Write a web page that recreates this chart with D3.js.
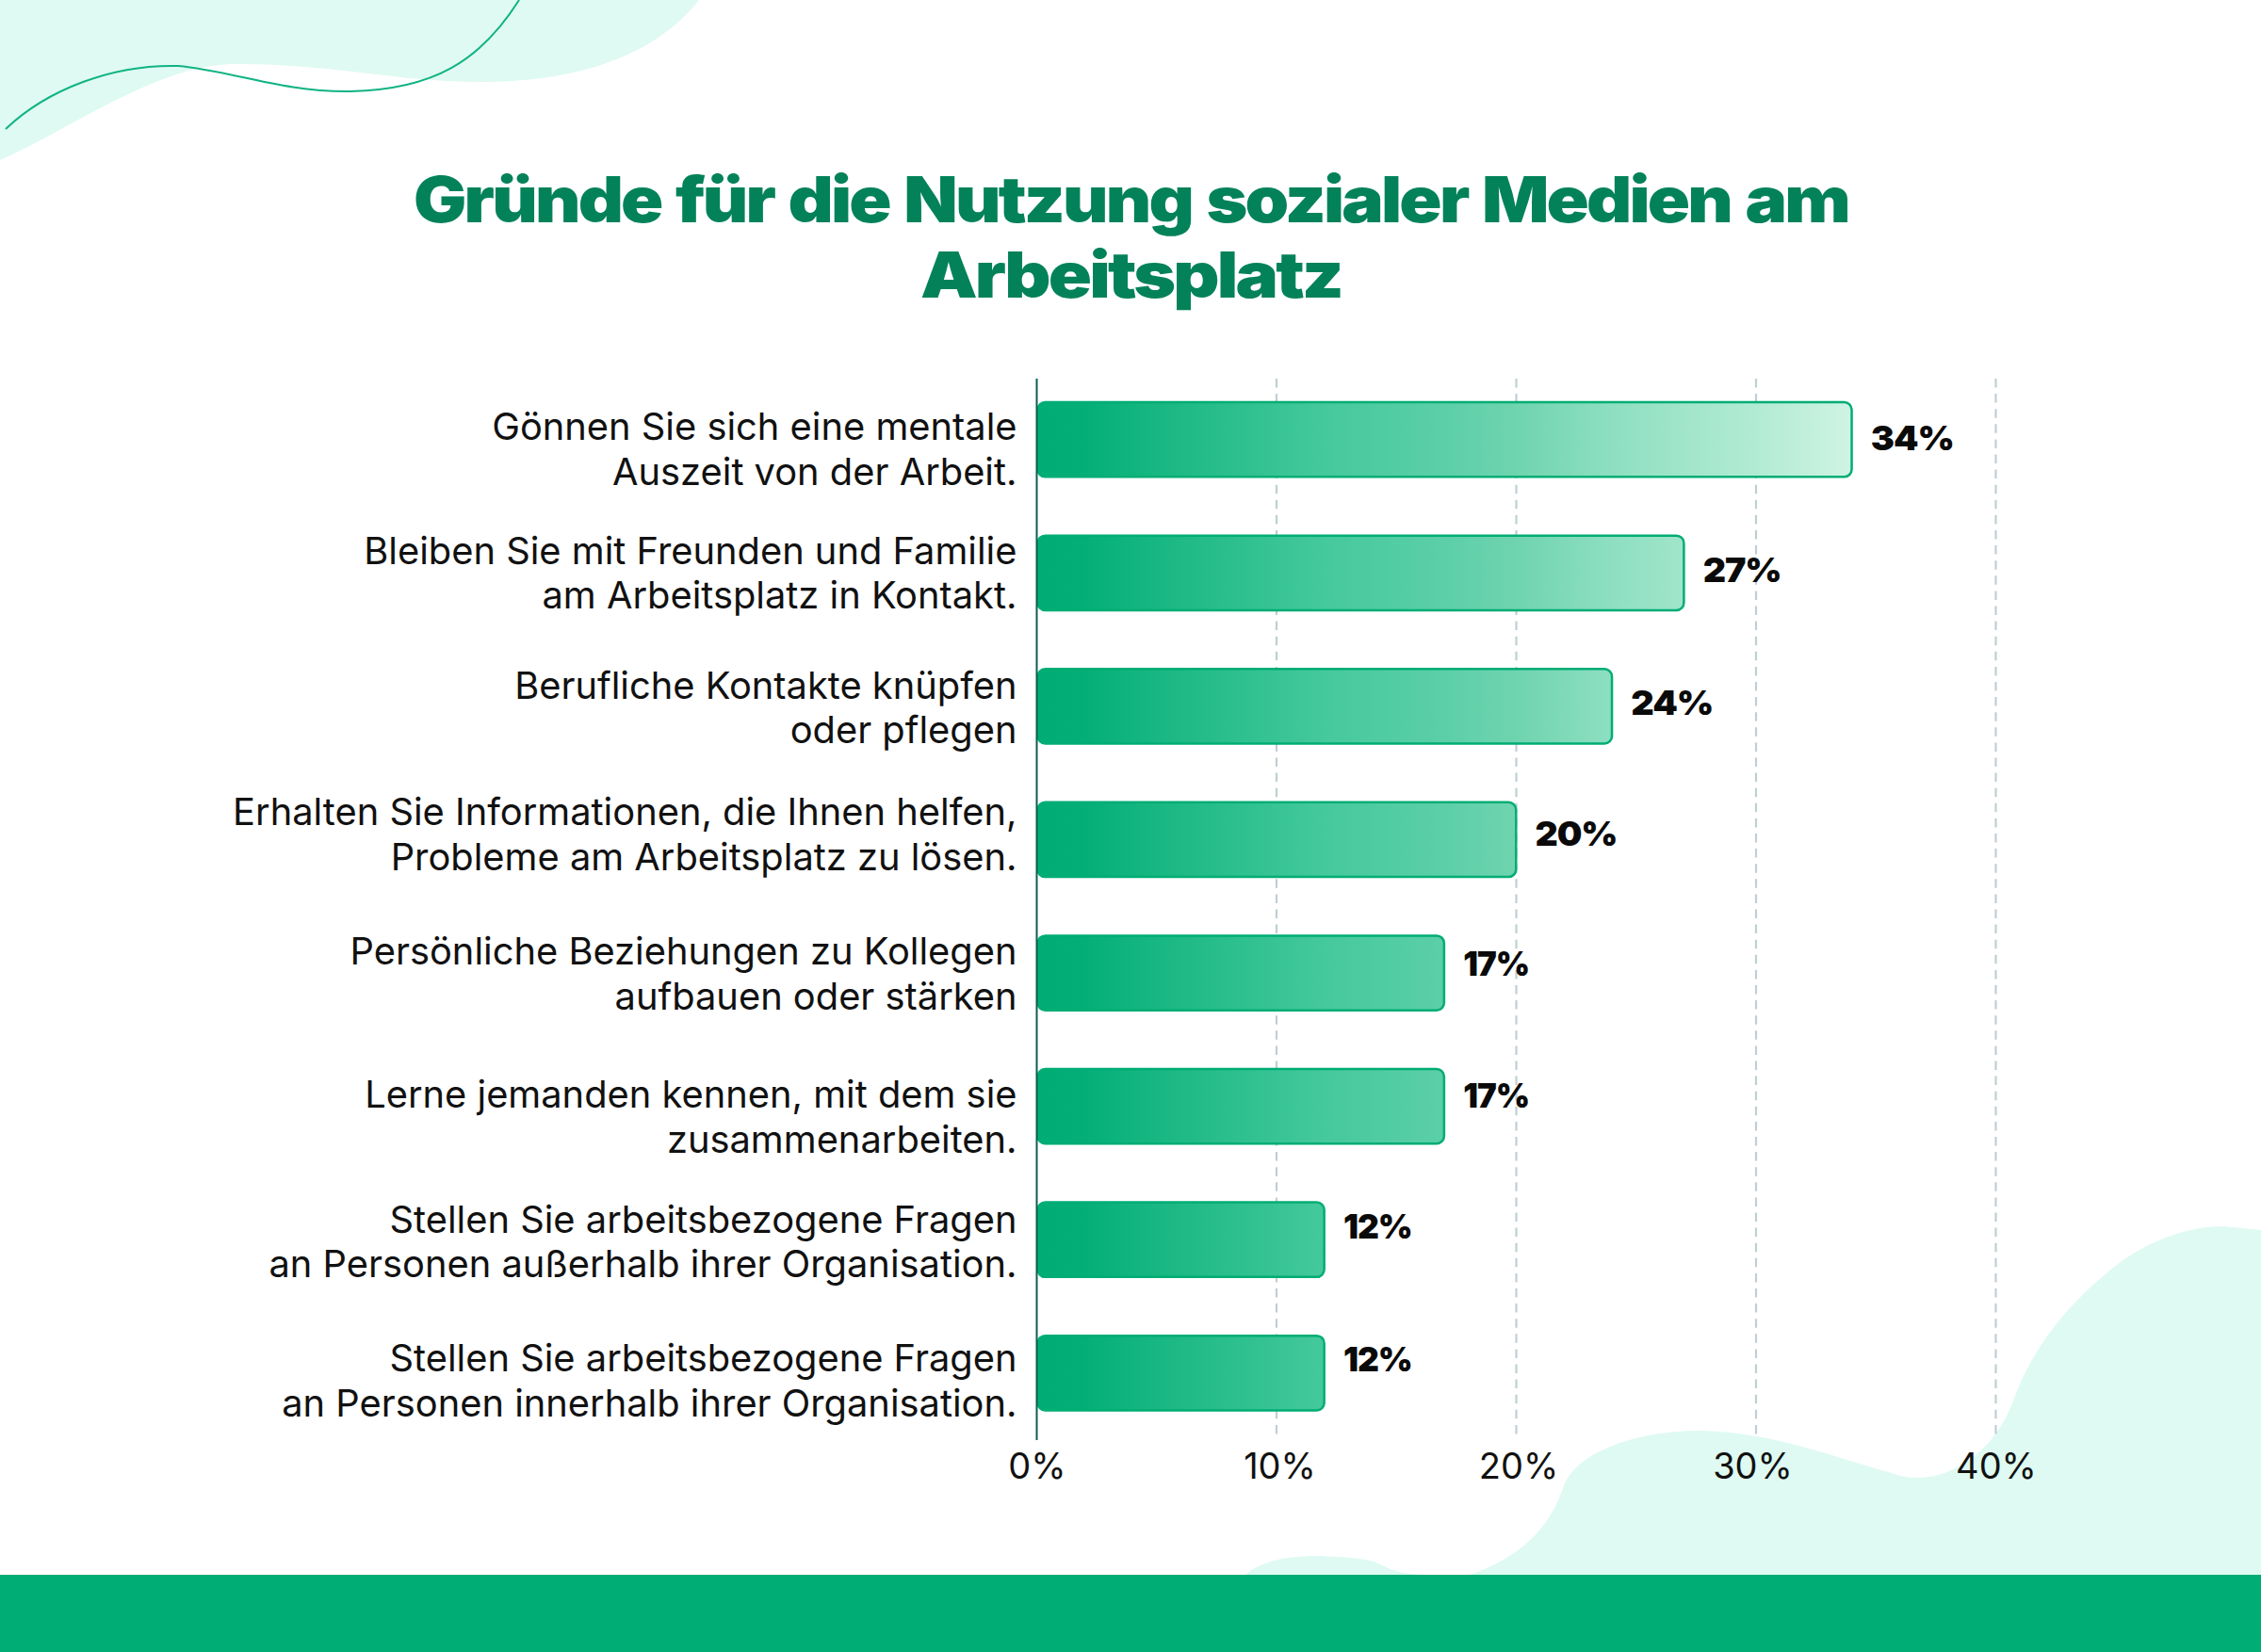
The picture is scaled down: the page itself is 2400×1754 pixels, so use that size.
<!DOCTYPE html>
<html>
<head>
<meta charset="utf-8">
<script src="https://cdn.jsdelivr.net/npm/d3@7"></script>
<style>
html, body { margin: 0; padding: 0; background: #fff; }
svg { display: block; }
</style>
</head>
<body>
<div class="chart"></div>
<script>
const titleLines = ['Gründe für die Nutzung sozialer Medien am', 'Arbeitsplatz'];
const categories = [
  ['Gönnen Sie sich eine mentale', 'Auszeit von der Arbeit.'],
  ['Bleiben Sie mit Freunden und Familie', 'am Arbeitsplatz in Kontakt.'],
  ['Berufliche Kontakte knüpfen', 'oder pflegen'],
  ['Erhalten Sie Informationen, die Ihnen helfen,', 'Probleme am Arbeitsplatz zu lösen.'],
  ['Persönliche Beziehungen zu Kollegen', 'aufbauen oder stärken'],
  ['Lerne jemanden kennen, mit dem sie', 'zusammenarbeiten.'],
  ['Stellen Sie arbeitsbezogene Fragen', 'an Personen außerhalb ihrer Organisation.'],
  ['Stellen Sie arbeitsbezogene Fragen', 'an Personen innerhalb ihrer Organisation.']
];
const values = [34, 27, 24, 20, 17, 17, 12, 12];
const xTicks = [0, 10, 20, 30, 40];

// the labels do not sit exactly on the bars in the original
const labelShift = [9.8, 0.1, 1.4, -5.8, 0.5, 11.3, 2.1, 7.9];
const valueShift = [-1.2, -3.4, -4.1, -6.3, -10.5, -11.2, -13.9, -14.6];
const valueWidth = [88, 83, 87, 87, 70, 70, 73, 73];
const tickShift = [0, 3, 2, -4, 0];

const width = 2400, height = 1754;
const green = '#00ad74', dark = '#03825a', pale = '#dffaf2';

const svg = d3.select('.chart').append('svg')
    .attr('width', width)
    .attr('height', height);

const x = d3.scaleLinear().domain([0, 40]).range([1100.5, 2118.5]);
const y = d3.scaleBand().domain(d3.range(values.length)).range([395.9, 1528.6]).paddingInner(0.44).paddingOuter(0.22);

// colour along the axis, by percent value
const fillStops = [[0, '#00ad74'], [2, '#04af77'], [12, '#45c99c'], [17, '#5ccfa8'], [20, '#6fd4b0'], [24, '#8edfc2'], [27, '#a0e5ca'], [30, '#b2ebd4'], [34, '#cff3e4']];
const gradient = svg.append('defs').append('linearGradient')
    .attr('id', 'barFill')
    .attr('gradientUnits', 'userSpaceOnUse')
    .attr('x1', x(0)).attr('x2', x(34)).attr('y1', 0).attr('y2', 0);
fillStops.forEach(s => {
  gradient.append('stop').attr('offset', s[0] / 34).attr('stop-color', s[1]);
});

// background shapes
svg.append('path').attr('fill', pale)
    .attr('d', 'M0,0 L742,0 C690,66 600,87 510,87 C420,87 350,67 245,68 C165,70 70,140 0,170 Z');
svg.append('path').attr('fill', pale)
    .attr('d', 'M1560,1672 C1610,1655 1645,1625 1660,1577 C1675,1540 1740,1519 1804,1519 C1880,1520 1950,1548 2008,1564 C2030,1572 2050,1570 2069,1562 C2095,1550 2120,1530 2136,1490 C2158,1428 2196,1385 2238,1350 C2275,1319 2320,1302 2360,1302 L2400,1306 L2400,1680 L1560,1680 Z');
svg.append('path').attr('fill', pale)
    .attr('d', 'M1322,1672 C1340,1656 1370,1652 1400,1652 C1430,1653 1450,1655 1461,1659 C1475,1666 1485,1671 1510,1672 Z');
svg.append('path').attr('fill', 'none').attr('stroke', '#10b383').attr('stroke-width', 2)
    .attr('d', 'M6,137 C50,95 120,68 189,70 C245,75 300,98 372,97 C460,95 510,65 551,0');
svg.append('rect').attr('x', 0).attr('y', 1672).attr('width', width).attr('height', 82).attr('fill', green);

// title
svg.selectAll('.title').data(titleLines).join('text')
    .attr('class', 'title')
    .attr('x', width / 2 + 0.5)
    .attr('y', (d, i) => 236 + i * 80)
    .attr('text-anchor', 'middle')
    .attr('font-family', 'Inter')
    .attr('font-weight', 900)
    .attr('font-size', 67)
    .attr('letter-spacing', -2.5)
    .attr('word-spacing', 3)
    .attr('fill', dark)
    .attr('textLength', (d, i) => i ? 447 : 1523)
    .attr('lengthAdjust', 'spacingAndGlyphs')
    .text(d => d);

// grid
svg.selectAll('.grid').data(xTicks.slice(1)).join('line')
    .attr('class', 'grid')
    .attr('x1', d => x(d)).attr('x2', d => x(d))
    .attr('y1', 402).attr('y2', 1529)
    .attr('stroke', '#bfcfd2')
    .attr('stroke-width', 2.2)
    .attr('stroke-dasharray', '9.5 6.6');

// axis
const xAxis = svg.append('g')
    .attr('transform', 'translate(0,1529)')
    .call(d3.axisBottom(x).tickValues(xTicks).tickSize(0).tickPadding(14).tickFormat(d => d + '%'));
xAxis.select('.domain').remove();
xAxis.selectAll('text')
    .attr('dx', (d, i) => tickShift[i])
    .attr('font-family', 'Inter')
    .attr('font-size', 38)
    .attr('fill', '#111');

// bars
svg.selectAll('.bar').data(values).join('rect')
    .attr('class', 'bar')
    .attr('x', x(0) + 1)
    .attr('y', (d, i) => y(i))
    .attr('width', d => x(d) - x(0) - 1.25)
    .attr('height', y.bandwidth())
    .attr('rx', 8)
    .attr('fill', 'url(#barFill)')
    .attr('stroke', green)
    .attr('stroke-width', 2.5);

svg.append('line')
    .attr('x1', x(0)).attr('x2', x(0))
    .attr('y1', 402).attr('y2', 1529)
    .attr('stroke', '#0f5c50')
    .attr('stroke-width', 2);

// category labels
const labels = svg.selectAll('.label').data(categories).join('text')
    .attr('class', 'label')
    .attr('text-anchor', 'end')
    .attr('font-family', 'Inter')
    .attr('font-size', 39.85)
    .attr('fill', '#111');
labels.selectAll('tspan').data((d, i) => d.map(t => ({t, i}))).join('tspan')
    .attr('x', 1079.5)
    .attr('y', (d, j) => y(d.i) + y.bandwidth() / 2 + labelShift[d.i] - 9.5 + j * 47.6)
    .text(d => d.t);

// value labels
svg.selectAll('.value').data(values).join('text')
    .attr('class', 'value')
    .attr('x', d => x(d) + 20)
    .attr('y', (d, i) => y(i) + y.bandwidth() / 2 + valueShift[i] + 13)
    .attr('font-family', 'Inter')
    .attr('font-weight', 900)
    .attr('font-size', 36)
    .attr('letter-spacing', -1)
    .attr('fill', '#0a0a0a')
    .attr('textLength', (d, i) => valueWidth[i])
    .attr('lengthAdjust', 'spacingAndGlyphs')
    .text(d => d + '%');
</script>
</body>
</html>
